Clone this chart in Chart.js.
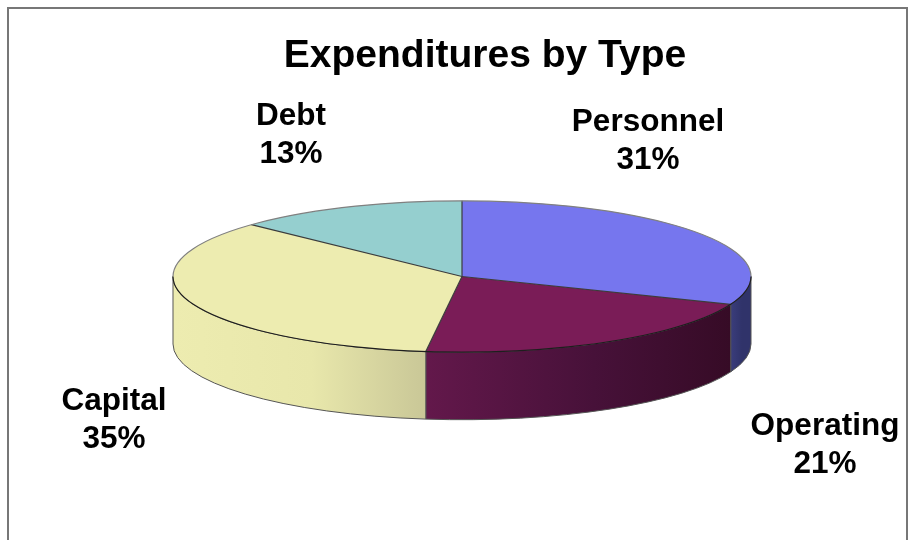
<!DOCTYPE html>
<html>
<head>
<meta charset="utf-8">
<title>Expenditures by Type</title>
<script src="https://cdn.jsdelivr.net/npm/chart.js@4"></script>
<style>
  html, body { margin: 0; height: 100%; overflow: hidden; background: #fff; }
  #frame {
    position: absolute; left: 7px; top: 7px; width: 897px; height: 600px;
    border: 2px solid #777;
  }
  #pie { position: absolute; left: 0; top: 0; }
</style>
</head>
<body>
<div id="frame"></div>
<canvas id="pie" width="911" height="540"></canvas>
<script>
// app data
const chartTitle = "Expenditures by Type";
const categories = ["Personnel", "Operating", "Capital", "Debt"];
const shares = [31, 21, 35, 13];

const topColors = ["#7676ee", "#7a1c57", "#edecb0", "#95cfcf"];
// colours across each slice's outer wall, left to right
const wallColors = [
  ["#3a3d7c", "#30336a", "#30336a"],
  ["#63184b", "#471139", "#360b26"],
  ["#edecb0", "#e8e7ab", "#c9c797"],
  ["#7fb0b0", "#7fb0b0", "#7fb0b0"],
];

// where the flattened pie sits on the page
const pieX = 462;
const pieY = 276.5;
const tilt = 0.262;
const depth = 67.5;

const labelSpots = [
  [648, 131],
  [825, 435],
  [114, 410],
  [291, 125],
];
const labelLineHeight = 38;

function sliceArcs(chart) {
  return chart.getDatasetMeta(0).data;
}

// outer walls go under the top face
function drawWalls(chart) {
  const ctx = chart.ctx;
  sliceArcs(chart).forEach((arc, i) => {
    const rx = arc.outerRadius;
    const ry = rx * tilt;
    // only the front half of the rim is visible
    const from = Math.max(arc.startAngle, 0);
    const to = Math.min(arc.endAngle, Math.PI);
    if (to <= from) return;

    const x1 = pieX + rx * Math.cos(to);
    const x2 = pieX + rx * Math.cos(from);
    const grad = ctx.createLinearGradient(x1, 0, x2, 0);
    grad.addColorStop(0, wallColors[i][0]);
    grad.addColorStop(0.55, wallColors[i][1]);
    grad.addColorStop(1, wallColors[i][2]);

    ctx.save();
    ctx.beginPath();
    ctx.ellipse(pieX, pieY, rx, ry, 0, from, to);
    ctx.ellipse(pieX, pieY + depth, rx, ry, 0, to, from, true);
    ctx.closePath();
    ctx.fillStyle = grad;
    ctx.fill();
    ctx.lineWidth = 1;
    ctx.strokeStyle = "#555";
    ctx.stroke();
    ctx.restore();
  });
}

// outline stroked without the squash so the line weight stays even
function drawOutlines(chart) {
  const ctx = chart.ctx;
  const arcs = sliceArcs(chart);
  ctx.save();
  ctx.lineWidth = 1.2;
  arcs.forEach((arc) => {
    const rx = arc.outerRadius;
    ctx.strokeStyle = "#3c3c3c";
    ctx.beginPath();
    ctx.moveTo(pieX, pieY);
    ctx.lineTo(pieX + rx * Math.cos(arc.startAngle), pieY + rx * tilt * Math.sin(arc.startAngle));
    ctx.stroke();
  });
  const rx = arcs[0].outerRadius;
  ctx.strokeStyle = "#808080";
  ctx.beginPath();
  ctx.ellipse(pieX, pieY, rx, rx * tilt, 0, Math.PI, Math.PI * 2);
  ctx.stroke();
  ctx.strokeStyle = "#1e1e1e";
  ctx.beginPath();
  ctx.ellipse(pieX, pieY, rx, rx * tilt, 0, 0, Math.PI);
  ctx.stroke();
  ctx.restore();
}

const flattenedPie = {
  id: "flattenedPie",
  beforeDatasetsDraw(chart) {
    drawWalls(chart);
    const arc = sliceArcs(chart)[0];
    const ctx = chart.ctx;
    ctx.save();
    ctx.translate(pieX, pieY);
    ctx.scale(1, tilt);
    ctx.translate(-arc.x, -arc.y);
  },
  afterDatasetsDraw(chart) {
    chart.ctx.restore();
    drawOutlines(chart);
  },
  afterDraw(chart) {
    const ctx = chart.ctx;
    ctx.save();
    ctx.font = "bold 31.5px 'Liberation Sans', Arial, sans-serif";
    ctx.fillStyle = "#000";
    ctx.textAlign = "center";
    ctx.textBaseline = "alphabetic";
    categories.forEach((name, i) => {
      const [x, y] = labelSpots[i];
      ctx.fillText(name, x, y);
      ctx.fillText(shares[i] + "%", x, y + labelLineHeight);
    });
    ctx.restore();
  },
};

new Chart(document.getElementById("pie").getContext("2d"), {
  type: "pie",
  data: {
    labels: categories,
    datasets: [
      {
        data: shares,
        backgroundColor: topColors,
        borderWidth: 0,
        radius: 289,
        clip: false,
      },
    ],
  },
  options: {
    responsive: false,
    animation: false,
    layout: { padding: { left: 59 } },
    plugins: {
      legend: { display: false },
      tooltip: { enabled: false },
      title: {
        display: true,
        text: chartTitle,
        color: "#000",
        font: { family: "'Liberation Sans', Arial, sans-serif", size: 39, weight: "bold" },
        padding: { top: 33, bottom: 0 },
      },
    },
  },
  plugins: [flattenedPie],
});
</script>
</body>
</html>
